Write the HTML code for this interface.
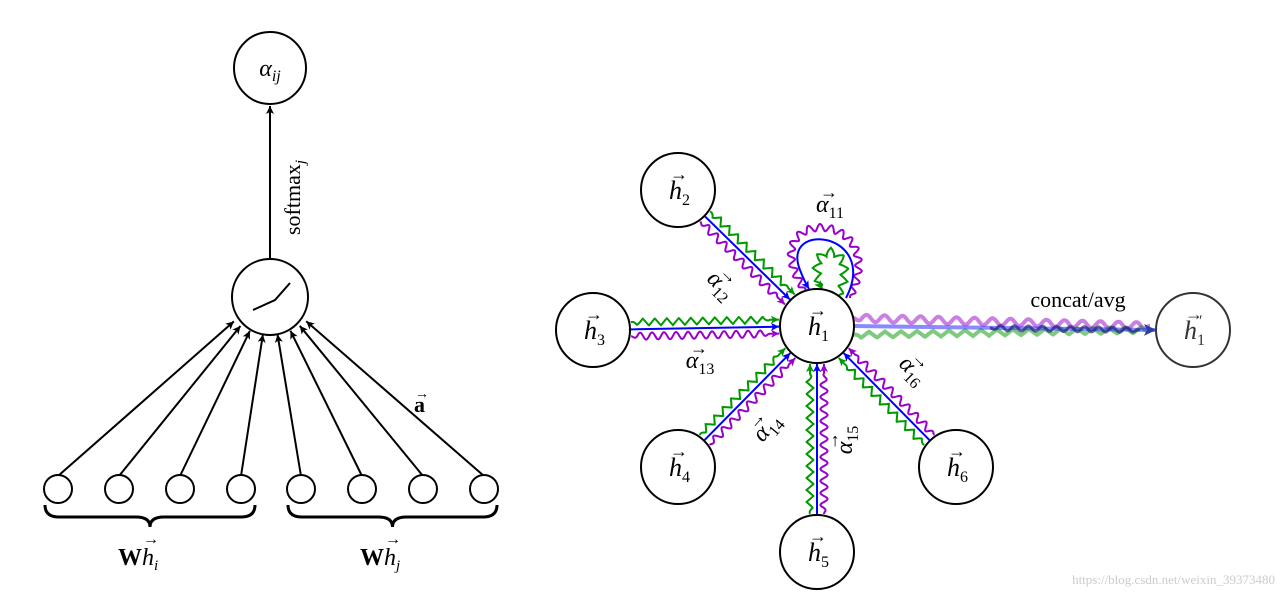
<!DOCTYPE html>
<html><head><meta charset="utf-8"><style>
html,body{margin:0;padding:0;background:#fff;}
svg{display:block;}
text{font-family:"Liberation Serif",serif;}
</style></head><body>
<svg id="s" width="1284" height="597" viewBox="0 0 1284 597" xmlns="http://www.w3.org/2000/svg">
<defs>
<marker id="ak" markerWidth="10" markerHeight="10" refX="9" refY="5" orient="auto" markerUnits="userSpaceOnUse"><path d="M1,1 L9,5 L1,9 L3,5 Z" fill="#000"/></marker>
<marker id="ab" markerWidth="10" markerHeight="10" refX="9" refY="5" orient="auto" markerUnits="userSpaceOnUse"><path d="M1,1 L9,5 L1,9 L3,5 Z" fill="#00f"/></marker>
<marker id="ag" markerWidth="10" markerHeight="10" refX="9" refY="5" orient="auto" markerUnits="userSpaceOnUse"><path d="M1,1 L9,5 L1,9 L3,5 Z" fill="#090"/></marker>
<marker id="ap" markerWidth="10" markerHeight="10" refX="9" refY="5" orient="auto" markerUnits="userSpaceOnUse"><path d="M1,1 L9,5 L1,9 L3,5 Z" fill="#90c"/></marker>
<marker id="an" markerWidth="14" markerHeight="14" refX="12" refY="7" orient="auto" markerUnits="userSpaceOnUse"><path d="M1,1 L13,7 L1,13 L4,7 Z" fill="#2a3ea8"/></marker>
</defs>
<g id="L" stroke="#000" stroke-width="2" fill="none">
<circle cx="270" cy="68" r="36" fill="#fff"/>
<circle cx="270" cy="297" r="38" fill="#fff"/>
<line x1="270" y1="259" x2="270" y2="106" marker-end="url(#ak)"/>
<path d="M253,310 L275,300 L290,283"/>
</g>
<text x="270" y="76" font-size="24" text-anchor="middle" font-style="italic">α<tspan font-size="16" dy="5">ij</tspan></text>
<text transform="translate(300,235) rotate(-90)" font-size="22">softmax<tspan font-size="15" font-style="italic" dy="5">j</tspan></text>
<text x="414" y="412" font-size="22" font-weight="bold">a</text><text x="415" y="398" font-size="14">→</text>
<text x="118" y="565" font-size="24"><tspan font-weight="bold">W</tspan><tspan font-style="italic">h</tspan><tspan font-size="15" font-style="italic" dy="5">i</tspan></text>
<text x="143" y="544" font-size="16">→</text>
<text x="360" y="565" font-size="24"><tspan font-weight="bold">W</tspan><tspan font-style="italic">h</tspan><tspan font-size="15" font-style="italic" dy="5">j</tspan></text>
<text x="385" y="544" font-size="16">→</text>
<g id="R"></g>
<text x="1078" y="307" font-size="22" text-anchor="middle">concat/avg</text>
<text x="1275" y="584" font-size="13" fill="#ccc" text-anchor="end" font-family="Liberation Sans,sans-serif">https://blog.csdn.net/weixin_39373480</text>
</svg>
<script>
var S=document.getElementById('s'),NS='http://www.w3.org/2000/svg';
function el(t,a,p){var e=document.createElementNS(NS,t);for(var k in a)e.setAttribute(k,a[k]);(p||S).appendChild(e);return e;}
var xs=[58,119,180,241,301,362,423,484];
xs.forEach(function(x,i){
 var dx=x-270, dy=475-297; var d=Math.hypot(dx,dy);
 var ex=270+dx/d*38+(i-3.5)*2, ey=297+dy/d*38;
 el('line',{x1:x,y1:476,x2:ex,y2:ey,stroke:'#000','stroke-width':2,'marker-end':'url(#ak)'});
 el('circle',{cx:x,cy:489,r:14,fill:'#fff',stroke:'#000','stroke-width':2});
});
function brace(x1,x2,y){var m=(x1+x2)/2;el('path',{d:'M'+x1+','+y+' Q'+x1+','+(y+12)+' '+(x1+14)+','+(y+12)+' L'+(m-14)+','+(y+12)+' Q'+m+','+(y+12)+' '+m+','+(y+22)+' Q'+m+','+(y+12)+' '+(m+14)+','+(y+12)+' L'+(x2-14)+','+(y+12)+' Q'+x2+','+(y+12)+' '+x2+','+y,fill:'none',stroke:'#000','stroke-width':3});}
brace(45,255,505);brace(288,497,505);
function wav(f,amp,wl,kind){var N=500,pts=[],L=0,prev=f(0);pts.push([prev[0],prev[1],0]);
 for(var i=1;i<=N;i++){var p=f(i/N);L+=Math.hypot(p[0]-prev[0],p[1]-prev[1]);pts.push([p[0],p[1],L]);prev=p;}
 var d='';for(var i=0;i<=N;i++){var a=pts[Math.max(0,i-1)],b=pts[Math.min(N,i+1)];var tx=b[0]-a[0],ty=b[1]-a[1],tl=Math.hypot(tx,ty)||1;var nx=-ty/tl,ny=tx/tl;
  var ph=pts[i][2]/wl;var w=kind=='z'?(2*Math.abs(2*(ph-Math.floor(ph+0.5)))-1):Math.sin(ph*2*Math.PI);
  var taper=Math.min(1,pts[i][2]/8,(L-pts[i][2])/8);
  d+=(i?'L':'M')+(pts[i][0]+nx*amp*w*taper).toFixed(1)+','+(pts[i][1]+ny*amp*w*taper).toFixed(1);}
 return d;}
function lin(x1,y1,x2,y2){return function(t){return [x1+(x2-x1)*t,y1+(y2-y1)*t];};}
function bez(p){return function(t){var u=1-t;return [u*u*u*p[0]+3*u*u*t*p[2]+3*u*t*t*p[4]+t*t*t*p[6],u*u*u*p[1]+3*u*u*t*p[3]+3*u*t*t*p[5]+t*t*t*p[7]];};}
var R=document.getElementById('R');
var C={1:[817,326],2:[678,190],3:[593,330],4:[678,467],5:[817,552],6:[956,467],7:[1193,330]};
var r=37;
[2,3,4,5,6].forEach(function(k){
 var a=C[k],b=C[1];var dx=b[0]-a[0],dy=b[1]-a[1],d=Math.hypot(dx,dy),ux=dx/d,uy=dy/d,nx=-uy,ny=ux;
 var sx=a[0]+ux*(r+1),sy=a[1]+uy*(r+1),ex=b[0]-ux*(r+1),ey=b[1]-uy*(r+1);
 [[0,'#00f','ab','s',0],[-7,'#090','ag','z',3.5],[7,'#90c','ap','s',3.5]].forEach(function(c){
  var o=c[0];var f=lin(sx+nx*o,sy+ny*o,ex+nx*o-ux*9,ey+ny*o-uy*9);
  var dd=c[4]?wav(f,c[4],12,c[3]):'M'+(sx+nx*o)+','+(sy+ny*o)+'L'+(ex+nx*o-ux*9)+','+(ey+ny*o-uy*9);
  el('path',{d:dd+' L'+(ex+nx*o)+','+(ey+ny*o),fill:'none',stroke:c[1],'stroke-width':2,'marker-end':'url(#'+c[2]+')'},R);
 });
});
el('path',{d:wav(bez([806,292,745,205,895,205,850,298]),3.5,11,'s'),fill:'none',stroke:'#90c','stroke-width':2},R);
el('path',{d:'M846,298 C 880,232 780,220 800,270 C 803,278 806,284 809,289',fill:'none',stroke:'#00f','stroke-width':2,'marker-end':'url(#ab)'},R);
el('path',{d:wav(bez([838,298,865,238,798,238,822,289]),4,12,'z'),fill:'none',stroke:'#090','stroke-width':2,'marker-end':'url(#ag)'},R);
el('path',{d:wav(lin(853,318,1150,326),3.5,18,'s'),fill:'none',stroke:'rgba(150,0,200,0.5)','stroke-width':4},R);
el('path',{d:wav(lin(853,335,1150,330),3,16,'z'),fill:'none',stroke:'rgba(0,150,0,0.5)','stroke-width':4},R);
el('line',{x1:854,y1:326,x2:1155,y2:330,stroke:'rgba(60,60,255,0.6)','stroke-width':4,'marker-end':'url(#an)'},R);
el('path',{d:wav(lin(990,328,1140,330),2.5,14,'s'),fill:'none',stroke:'rgba(30,40,120,0.7)','stroke-width':3},R);
for(var k=1;k<=7;k++){var c=C[k];el('circle',{cx:c[0],cy:c[1],r:r,fill:k==7?'none':'#fff',stroke:k==7?'#333':'#000','stroke-width':2},R);
 var t=el('text',{x:c[0]-9,y:c[1]+9,'font-size':26,'font-style':'italic',fill:k==7?'#333':'#000'},R);t.textContent='h';
 var s=el('tspan',{'font-size':16,dy:6,'font-style':'normal'},t);s.textContent=k==7?'1':k;
 if(k==7){var q=el('text',{x:c[0]+6,y:c[1]-4,'font-size':16,fill:'#333'},R);q.textContent='′';}
 var ar=el('text',{x:c[0]-8,y:c[1]-10,'font-size':18,fill:k==7?'#333':'#000'},R);ar.textContent='→';}
function lab(x,y,rot,n){var g=el('g',{transform:'translate('+x+','+y+') rotate('+rot+')'},R);
 var t=el('text',{x:0,y:0,'font-size':24,'font-style':'italic','text-anchor':'middle'},g);t.textContent='α';var s=el('tspan',{'font-size':16,dy:6,'font-style':'normal'},t);s.textContent=n;
 var a=el('text',{x:-10,y:-14,'font-size':18},g);a.textContent='→';}
lab(830,212,0,'11');lab(716,290,45,'12');lab(700,368,0,'13');lab(772,432,-50,'14');lab(852,440,-90,'15');lab(908,375,45,'16');
</script>
</body></html>
